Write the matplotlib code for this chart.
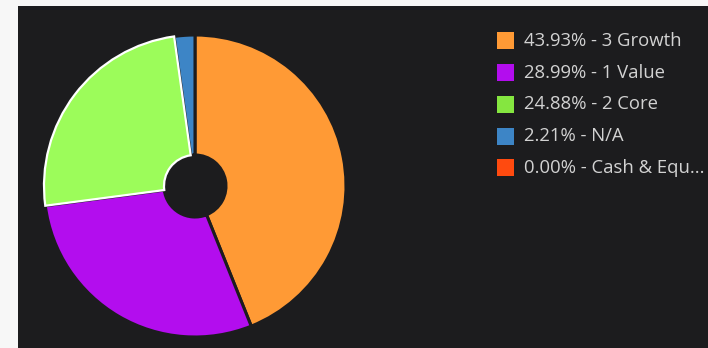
import numpy as np
import matplotlib
matplotlib.use("Agg")
import matplotlib.pyplot as plt
from matplotlib.patches import Rectangle, Circle

labels = ["3 Growth", "1 Value", "2 Core", "N/A", "Cash & Equ..."]
values = [43.93, 28.99, 24.88, 2.21, 0.00]
colors = ["#ff9a35", "#b30dee", "#85e640", "#3d85c6", "#ff4a0f"]
pie_colors = ["#ff9a35", "#b30dee", "#9cfc5a", "#3d85c6", "#ff4a0f"]

W, H = 708, 348
bg_dark = "#1c1c1e"

fig = plt.figure(figsize=(W / 100, H / 100), dpi=100)
fig.patch.set_facecolor("#f7f7f7")

# dark panel
fig.patches.append(Rectangle((18 / W, 0), 1, (H - 6) / H, transform=fig.transFigure,
                             facecolor=bg_dark, edgecolor="none", zorder=-5))

# pie axes, radius 1 == 151 px, centre at (195, 186) px from top-left
r_px = 151
cx, cy = 195, H - 186
half = 160
ax = fig.add_axes([(cx - half) / W, (cy - half) / H, 2 * half / W, 2 * half / H])
ax.set_facecolor("none")

vals = [v for v in values if v > 0]
cols = [c for c, v in zip(pie_colors, values) if v > 0]
hole = 31 / r_px
wedges, _ = ax.pie(vals, colors=cols, startangle=90, counterclock=False,
                   radius=1, wedgeprops=dict(width=1 - hole, edgecolor=bg_dark, linewidth=2.2))
# hovered slice (Core) gets a white outline
wedges[2].set_edgecolor("white")
wedges[2].set_linewidth(1.6)
wedges[2].set_zorder(5)
ax.set_xlim(-half / r_px, half / r_px)
ax.set_ylim(-half / r_px, half / r_px)
ax.set_aspect("equal")
ax.axis("off")

# legend
y0, step = 40.7, 31.8
for i, (lab, val, col) in enumerate(zip(labels, values, colors)):
    yc = y0 + i * step
    fig.patches.append(Rectangle((497 / W, (H - yc - 8.5) / H), 17 / W, 17 / H,
                                 transform=fig.transFigure, facecolor=col,
                                 edgecolor="none", zorder=2))
    fig.text(524 / W, (H - yc) / H, f"{val:.2f}% - {lab}", color="#d2d2d2",
             fontsize=13.3, family="Open Sans", va="center", ha="left")

fig.savefig("out.png", dpi=100, facecolor=fig.get_facecolor())
